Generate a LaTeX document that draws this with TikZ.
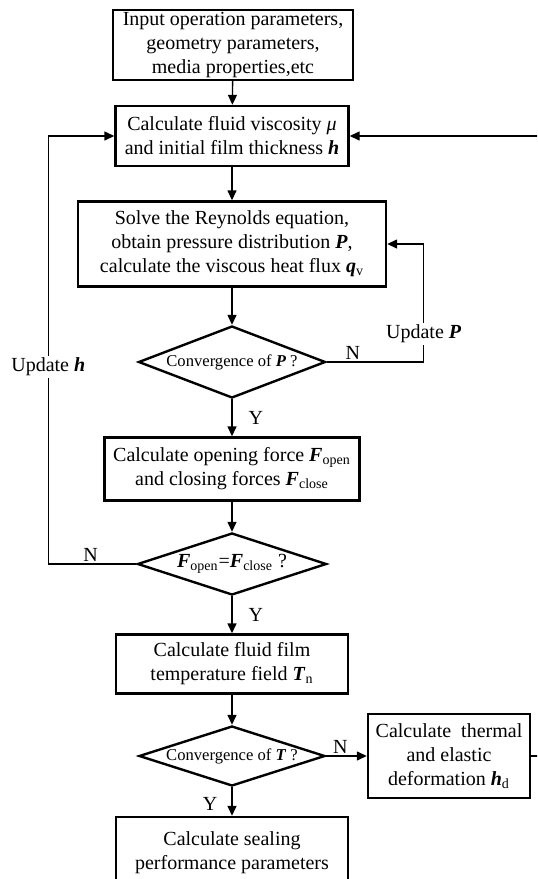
\documentclass[tikz,border=0pt]{standalone}
\usepackage{fontspec}
\setmainfont{Liberation Serif}
\usetikzlibrary{arrows.meta, shapes.geometric}
\newcommand{\bvar}[1]{\textbf{\textit{#1}}}

\begin{document}
\begin{tikzpicture}[x=0.5pt, y=-0.5pt,
  procbox/.style={draw, line width=1.2pt, align=center, inner sep=1pt,
    font=\fontsize{10}{12}\selectfont},
  decision/.style={diamond, draw, line width=1.2pt, inner sep=0pt, align=center,
    font=\fontsize{8.3}{10}\selectfont},
  flow/.style={line width=0.7pt, -{Triangle[length=5pt, width=4.5pt]}},
  lbl/.style={font=\fontsize{10}{12}\selectfont, inner sep=1pt}]
  % Frame (the figure is cut on the right and at the bottom)
  \clip (0,0) rectangle (537,879);

  % --- Main column ---
  \node[procbox, minimum width=120pt, minimum height=35pt] (input) at (233,45)
    {Input operation parameters,\\ geometry parameters,\\ media properties,etc};
  \node[procbox, minimum width=116.5pt, minimum height=30pt] (visc) at (232,136)
    {Calculate fluid viscosity \textit{μ}\\ and initial film thickness \bvar{h}};
  \node[procbox, minimum width=154pt, minimum height=42.5pt] (reyn) at (232,244)
    {Solve the Reynolds equation,\\ obtain pressure distribution \bvar{P},\\
     calculate the viscous heat flux \bvar{q}\textsubscript{v}};
  \node[decision, aspect=2.6, minimum width=93.5pt, minimum height=36pt] (convP) at (232,362)
    {Convergence of \bvar{P} ?};
  \node[procbox, minimum width=127.5pt, minimum height=31.5pt] (force) at (232,469)
    {Calculate opening force \bvar{F}\textsubscript{open}\\
     and closing forces \bvar{F}\textsubscript{close}};
  \node[decision, aspect=3, minimum width=94.5pt, minimum height=31pt,
    font=\fontsize{10}{12}\selectfont] (balance) at (232,564)
    {\bvar{F}\textsubscript{open}=\bvar{F}\textsubscript{close} ?};
  \node[procbox, minimum width=116pt, minimum height=29.5pt] (temp) at (232,664)
    {Calculate fluid film\\ temperature field \bvar{T}\textsubscript{n}};
  \node[decision, aspect=3.1, minimum width=93pt, minimum height=30pt] (convT) at (232,756)
    {Convergence of \bvar{T} ?};
  \node[procbox, minimum width=116pt, minimum height=36pt] (seal) at (232,853)
    {Calculate sealing\\ performance parameters};

  % --- Side box ---
  \node[procbox, minimum width=81pt, minimum height=42pt] (deform) at (449,756)
    {Calculate\ \ thermal\\ and elastic\\ deformation \bvar{h}\textsubscript{d}};

  % --- Straight flow ---
  \draw[flow] (input) -- (visc);
  \draw[flow] (visc) -- (reyn);
  \draw[flow] (reyn) -- (convP);
  \draw[flow] (convP) -- node[lbl, right=7pt] {Y} (force);
  \draw[flow] (force) -- (balance);
  \draw[flow] (balance) -- node[lbl, right=7pt] {Y} (temp);
  \draw[flow] (temp) -- (convT);
  \draw[flow] (convT) -- node[lbl, left=6pt, pos=0.6] {Y} (seal);
  \draw[flow] (convT) -- node[lbl, above, pos=0.35] {N} (deform);

  % --- Loops ---
  \draw[flow] (convP.east) -- node[lbl, above, pos=0.27] {N} ++(97,0)
    |- node[lbl, fill=white, pos=0.12] {Update \bvar{P}} (reyn.east);
  \draw[flow] (balance.west) -- node[lbl, above, pos=0.52] {N} ++(-88,0)
    |- node[lbl, fill=white, pos=0.23] {Update \bvar{h}} (visc.west);
  \draw[flow] (deform.east) -- ++(30,0) |- (visc.east);
\end{tikzpicture}
\end{document}
